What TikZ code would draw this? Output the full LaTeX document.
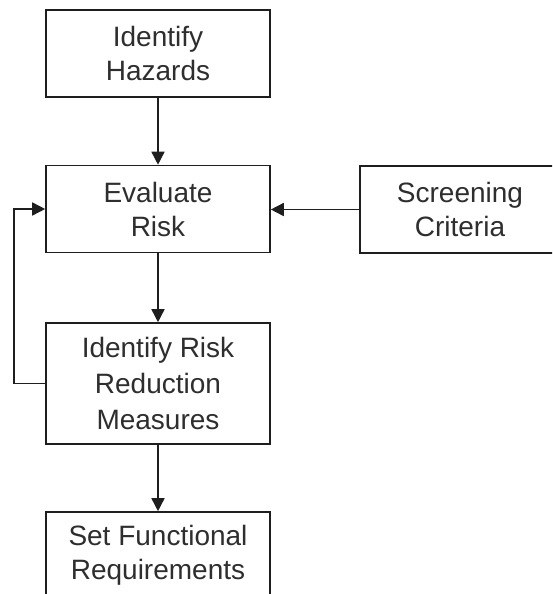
\documentclass[tikz,border=0pt]{standalone}
\usepackage{fontspec}
\setmainfont{Liberation Sans}
\usetikzlibrary{arrows.meta}
\definecolor{ink}{HTML}{1E1E1E}
\definecolor{txt}{HTML}{2E2E2E}
\tikzset{
  stepbox/.style={draw=ink, line width=1.6pt, fill=white, align=center,
    minimum width=224pt, minimum height=87pt, inner sep=0pt,
    text=txt, font=\fontsize{28}{34}\selectfont},
  flow/.style={draw=ink, line width=1.6pt, -{Triangle[length=13pt,width=13pt]}}
}
\begin{document}
\begin{tikzpicture}[x=1pt,y=-1pt]
  \useasboundingbox (0,0) rectangle (552,594);
  \clip (0,0) rectangle (552,594);
  \fill[white] (0,0) rectangle (552,594);

  % process boxes
  \node[stepbox] (haz) at (158,53.5) {Identify\\Hazards};
  \node[stepbox] (eval) at (158,209) {Evaluate\\Risk};
  \node[stepbox, minimum height=121pt, font=\fontsize{28}{36}\selectfont] (meas) at (158,383.5) {Identify Risk\\Reduction\\Measures};
  \node[stepbox] (req) at (158,555.5) {Set Functional\\Requirements};
  \node[stepbox, minimum width=200pt] (crit) at (460,209.5) {Screening\\Criteria};

  % feedback corner
  \coordinate (loop) at (14,0);

  % connectors
  \draw[flow] (haz) -- (eval);
  \draw[flow] (eval) -- (meas);
  \draw[flow] (meas) -- (req);
  \draw[flow] (crit.west) -- (eval.east |- crit.west);
  \draw[flow] (meas.west) -- (loop |- meas.west) -- (loop |- eval.west) -- (eval.west);
\end{tikzpicture}
\end{document}
